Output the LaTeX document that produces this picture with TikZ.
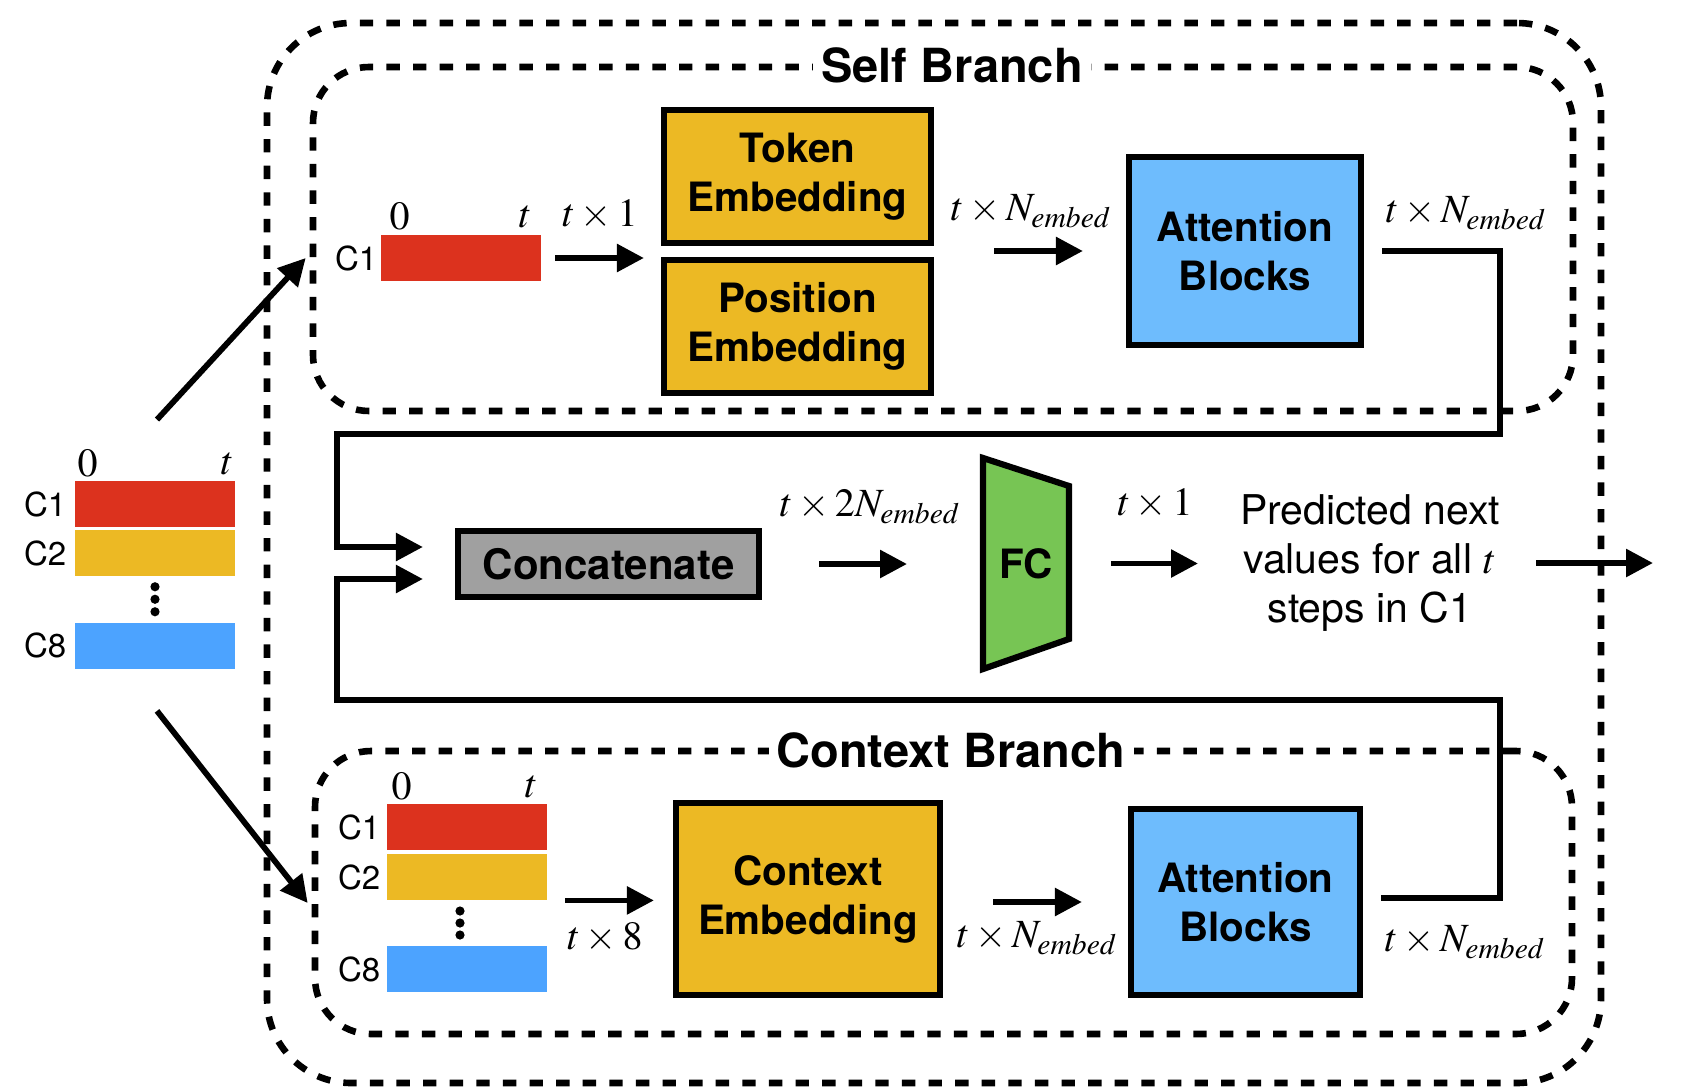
\documentclass[tikz,border=0pt]{standalone}
\usepackage{mathptmx}
\usepackage[no-math]{fontspec}
\setmainfont{TeX Gyre Heros}
\usetikzlibrary{arrows.meta, positioning, calc}
\definecolor{barred}{RGB}{220,50,30}
\definecolor{baryellow}{RGB}{236,185,36}
\definecolor{barblue}{RGB}{76,163,255}
\definecolor{attnblue}{RGB}{110,188,253}
\definecolor{fcgreen}{RGB}{119,197,84}
\definecolor{catgray}{RGB}{160,160,160}
\newcommand{\boxfont}{\fontsize{20.2}{24.5}\selectfont\bfseries}
\newcommand{\catfont}{\fontsize{21}{25}\selectfont\bfseries}
\newcommand{\titlefont}{\fontsize{23.5}{28}\selectfont\bfseries}
\newcommand{\dimfont}{\fontsize{20}{24}\selectfont}
\newcommand{\chanfont}{\fontsize{16.5}{19}\selectfont}
\newcommand{\predfont}{\fontsize{20.5}{24.3}\selectfont}
\tikzstyle{chbar}=[inner sep=0pt, minimum width=80pt, minimum height=23pt]
\tikzstyle{block}=[draw, line width=3.1pt, align=center, font=\boxfont, inner sep=0pt]
\tikzstyle{branch}=[draw, dash pattern=on 6.7pt off 6.6pt, line width=3.3pt, rounded corners=28pt, inner sep=0pt]
\tikzstyle{arr}=[line width=2.9pt, -{Triangle[length=13.5pt, width=13.5pt]}]
\tikzstyle{wire}=[line width=2.9pt, -{Triangle[length=13.5pt, width=13.5pt]}]
\tikzstyle{dim}=[font=\dimfont, inner sep=0pt]
\tikzstyle{chan}=[font=\chanfont, inner sep=0pt]
\newcommand{\chbar}{\node[chbar]}

\begin{document}
\begin{tikzpicture}[x=0.5pt, y=-0.5pt]
\useasboundingbox (0,0) rectangle (1685,1087);
%branches
\node[branch, rounded corners=42pt, minimum width=667pt, minimum height=530pt] (outer) at (934,553){};
\node[branch, minimum width=630pt, minimum height=172pt] (self) at (943,239){};
\node[branch, minimum width=628.5pt, minimum height=141.5pt] (ctx) at (943.5,892.5){};
\node[font=\titlefont, fill=white, inner xsep=4pt, inner ysep=2pt] (selft) at (952,65){Self Branch};
\node[font=\titlefont, fill=white, inner xsep=4pt, inner ysep=2pt] (ctxt) at (951,750){Context Branch};
%input
\chbar[fill=barred] (in1) at (155,504){};
\chbar[fill=baryellow] (in2) at (155,553){};
\chbar[fill=barblue] (in8) at (155,645.5){};
\node[chan, left=4pt of in1] (lin1){C1};
\node[chan, left=4pt of in2] (lin2){C2};
\node[chan, left=4pt of in8] (lin8){C8};
\node[dim] (in0) at ([shift={(13,-17)}]in1.north west){$0$};
\node[dim] (int) at ([shift={(-8,-17)}]in1.north east){$t$};
\foreach \d in {-1,0,1}{
	\fill ($(in2.south)!0.5!(in8.north)+(0,12.5*\d)$) circle (2.3pt);}
%self branch
\chbar[fill=barred] (sc1) at (461,258){};
\node[chan, left=1.5pt of sc1] (lsc1){C1};
\node[dim] (sc0) at ([shift={(19,-18)}]sc1.north west){$0$};
\node[dim] (sct) at ([shift={(-16,-18)}]sc1.north east){$t$};
\node[block, fill=baryellow, minimum width=133.5pt, minimum height=66.5pt] (tok) at (797.5,176.5){Token\\Embedding};
\node[block, fill=baryellow, minimum width=133.5pt, minimum height=66.5pt] (pos) at (797.5,326.5){Position\\Embedding};
\node[block, fill=attnblue, minimum width=116pt, minimum height=94pt] (attn) at (1245,251){Attention\\Blocks};
\node[dim] (ds1) at (600,215){$t\times 1$};
\node[dim] (ds2) at (1031,211){$t\times N_{embed}$};
\node[dim] (ds3) at (1466,213){$t\times N_{embed}$};
\draw[arr] ([xshift=7pt]sc1.east) -- ([xshift=-8.5pt]sc1.east -| tok.west);
\draw[arr] ([xshift=30pt]tok.east |- attn.west) -- ([xshift=-21.5pt]attn.west);
%context branch
\chbar[fill=barred] (cc1) at (467,827){};
\chbar[fill=baryellow] (cc2) at (467,877){};
\chbar[fill=barblue] (cc8) at (467,969){};
\node[chan, left=3pt of cc1] (lcc1){C1};
\node[chan, left=3pt of cc2] (lcc2){C2};
\node[chan, left=3pt of cc8] (lcc8){C8};
\node[dim] (cc0) at ([shift={(15,-17)}]cc1.north west){$0$};
\node[dim] (cct) at ([shift={(-16,-17)}]cc1.north east){$t$};
\foreach \d in {-1,0,1}{
	\fill ($(cc2.south)!0.5!(cc8.north)+(-7,12*\d)$) circle (2.3pt);}
\node[block, fill=baryellow, minimum width=132pt, minimum height=96pt] (cemb) at (808,899){Context\\Embedding};
\node[block, fill=attnblue, minimum width=114.5pt, minimum height=93pt] (attnc) at (1245.5,902){Attention\\Blocks};
\node[dim] (dc1) at (605,938){$t\times 8$};
\node[dim] (dc2) at (1037,938){$t\times N_{embed}$};
\node[dim] (dc3) at (1465,942){$t\times N_{embed}$};
\draw[arr] ([xshift=9pt]cc2.south east) -- ([xshift=-9.5pt]cc2.south east -| cemb.west);
\draw[arr] ([xshift=25pt]cemb.east |- attnc.west) -- ([xshift=-23pt]attnc.west);
%input to branches
\draw[arr] ([shift={(1pt,30.5pt)}]in1.north) -- ([xshift=-2pt]self.west |- sc1.west);
\draw[arr] ([shift={(1pt,-21pt)}]in8.south) -- ([shift={(-2pt,-5.25pt)}]ctx.west);
%merge
\node[block, fill=catgray, font=\catfont, minimum width=150.5pt, minimum height=33pt] (concat) at (608.5,564){Concatenate};
\path[draw, fill=fcgreen, line width=3.1pt] (983,458) -- (1069,486) -- (1069,639) -- (983,669) -- cycle;
\node[font=\boxfont, minimum width=43pt, minimum height=105.5pt, inner sep=0pt, outer sep=0pt] (fc) at (1026,563.5){FC};
\node[align=center, font=\predfont, inner sep=0pt] (pred) at (1370,563){Predicted next\\values for all $t$\\steps in C1};
\node[dim] (dm1) at (870,507){$t\times 2N_{embed}$};
\node[dim] (dm2) at (1155,504){$t\times 1$};
\coordinate (outp) at (1653,563);
\draw[arr] ([xshift=28.5pt]concat.east) -- ([xshift=-38pt]concat.east -| fc.west);
\draw[arr] ([xshift=21pt]fc.east) -- ([xshift=64.5pt]fc.east);
\draw[arr] ([xshift=18pt]pred.east) -- (outp);
%wires
\coordinate (tr) at (1500,434);
\coordinate (tl) at (337,434);
\coordinate (br) at (1500,700);
\coordinate (bl) at (337,700);
\draw[wire] ([xshift=9pt]attn.east) -| (tr) -- (tl) |- ([shift={(-16pt,8.5pt)}]concat.west);
\draw[wire] ([shift={(9pt,2pt)}]attnc.east) -| (br) -- (bl) |- ([shift={(-16pt,-7.5pt)}]concat.west);
\end{tikzpicture}
\end{document}
